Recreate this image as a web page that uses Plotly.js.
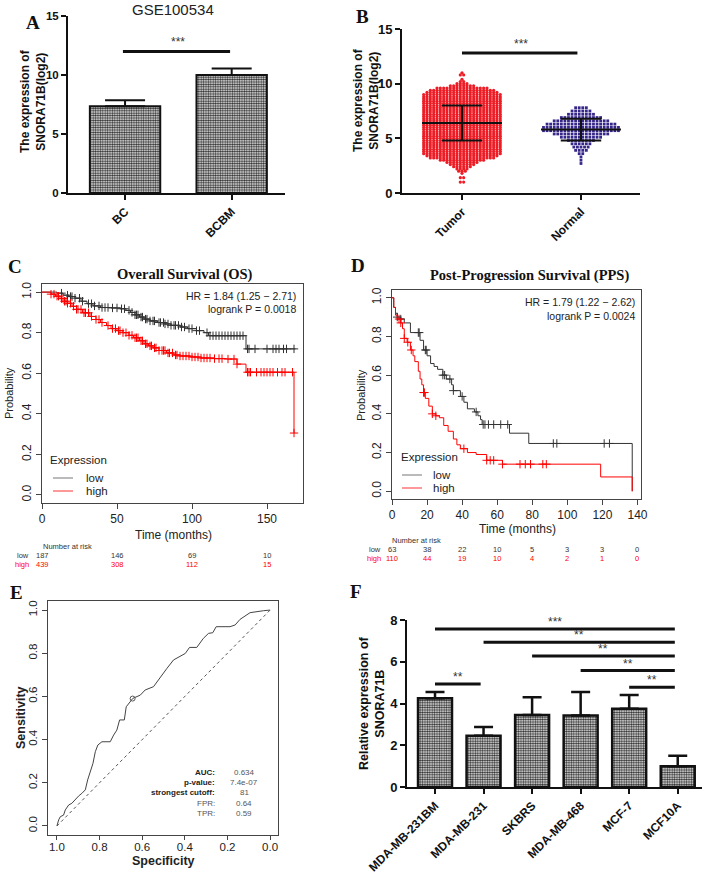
<!DOCTYPE html>
<html>
<head>
<meta charset="utf-8">
<script src="https://cdn.plot.ly/plotly-3.0.1.min.js"></script>
<style>
  html, body { margin: 0; padding: 0; background: #fff; }
  #chart { width: 708px; height: 874px; }
</style>
</head>
<body>
<div id="chart"></div>
<script>
// ---------------------------------------------------------------
// A: GSE100534, BC vs BCBM
const groupsA = ['BC', 'BCBM'];
const meanA = [7.35, 10.0];
const errA = [0.5, 0.55];
const sigLevelA = 12;

// B: tumour vs normal scatter (rows of the dot plot: level -> count)
const groupsB = ['Tumor', 'Normal'];
const tumorLevels = [1.0, 1.4, 1.8, 2.0, 2.2, 2.4, 2.6, 2.8, 3.0, 3.2, 3.4, 3.6, 3.8, 4.0, 4.2, 4.4, 4.6, 4.8,
  5.0, 5.2, 5.4, 5.6, 5.8, 6.0, 6.2, 6.4, 6.6, 6.8, 7.0, 7.2, 7.4, 7.6, 7.8, 8.0, 8.2, 8.4, 8.6, 8.8, 9.0,
  9.2, 9.4, 9.6, 9.8, 10.0, 10.2, 10.4, 10.8, 11.0];
const tumorCounts = [2, 2, 1, 3, 4, 6, 8, 10, 14, 20, 22, 24, 24, 24, 24, 24, 24, 24,
  24, 24, 24, 24, 24, 24, 24, 24, 24, 24, 24, 24, 24, 24, 24, 24, 24, 24, 24, 24, 24,
  22, 20, 16, 8, 4, 2, 1, 2, 1];
const normalLevels = [2.7, 3.0, 3.3, 3.6, 3.9, 4.2, 4.5, 4.8, 5.1, 5.4, 5.7, 6.0, 6.3, 6.6, 6.9, 7.2, 7.5, 7.8];
const normalCounts = [1, 1, 1, 2, 4, 5, 6, 8, 12, 16, 22, 22, 20, 16, 12, 8, 6, 4];
const meanB = [6.4, 5.8];
const sdB = [1.6, 1.0];
const sigLevelB = 12.8;

// C: overall survival
const osLowTime = [0, 10, 14, 18, 22, 26, 30, 34, 39, 46, 52, 56, 59, 62, 65, 68, 72, 77, 82, 86, 92, 97, 103, 108, 111, 136, 169];
const osLowSurv = [1.0, 0.995, 0.985, 0.978, 0.97, 0.955, 0.943, 0.932, 0.924, 0.922, 0.918, 0.91, 0.90, 0.888, 0.877,
  0.867, 0.858, 0.85, 0.843, 0.836, 0.828, 0.82, 0.81, 0.80, 0.785, 0.72, 0.72];
const osLowCensor = [13, 17, 19, 20, 22, 25, 27, 31, 33, 35, 38, 40, 42, 44, 47, 50, 53, 55, 58, 60, 62, 63, 64, 66, 67,
  69, 70, 72, 74, 75, 78, 79, 81, 82, 84, 86, 88, 89, 91, 93, 95, 98, 100, 103, 105, 110, 112, 114, 116, 118, 120,
  122, 124, 126, 128, 130, 132, 134, 137, 138, 142, 150, 154, 156, 158, 161, 163, 168];
const osHighTime = [0, 6, 9, 12, 15, 17, 20, 23, 27, 32, 36, 39, 43, 46, 50, 54, 58, 61, 65, 68, 71, 74, 78, 83, 88,
  92, 99, 106, 115, 123, 130, 136, 168];
const osHighSurv = [1.0, 0.99, 0.98, 0.968, 0.955, 0.945, 0.93, 0.915, 0.898, 0.88, 0.865, 0.85, 0.835, 0.82, 0.81,
  0.80, 0.787, 0.775, 0.76, 0.745, 0.735, 0.725, 0.712, 0.70, 0.69, 0.685, 0.68, 0.675, 0.672, 0.67, 0.645, 0.605, 0.305];
const osHighCensor = [6, 8, 10, 11, 13, 14, 15, 16, 17, 19, 21, 23, 24, 26, 28, 29, 31, 33, 36, 38, 40, 44, 47, 49,
  51, 52, 54, 56, 58, 60, 62, 63, 64, 66, 67, 69, 70, 72, 73, 75, 76, 78, 80, 81, 82, 84, 85, 87, 89, 90, 92, 94, 96,
  98, 100, 102, 104, 106, 108, 110, 112, 115, 118, 120, 124, 128, 130, 137, 138, 139, 143, 146, 148, 150, 152, 154,
  157, 160, 162, 167, 168];
const osRiskTimes = [0, 50, 100, 150];
const osRiskLow = [187, 146, 69, 10];
const osRiskHigh = [439, 308, 112, 15];

// D: post-progression survival
const ppsLowTime = [0, 1, 2, 3, 5, 7, 10.5, 16, 18, 20, 22, 24, 26, 29, 31, 34, 35, 39, 41, 43, 47, 49, 50.5, 51.4, 67, 78, 137];
const ppsLowSurv = [1.0, 0.95, 0.92, 0.90, 0.89, 0.87, 0.82, 0.78, 0.73, 0.70, 0.66, 0.645, 0.63, 0.60, 0.58, 0.55,
  0.52, 0.49, 0.46, 0.426, 0.41, 0.39, 0.37, 0.345, 0.30, 0.247, 0.0];
const ppsLowCensor = [3, 5, 15, 15.5, 19, 19.5, 29, 30, 33, 35, 40, 48, 52, 53, 55, 58, 62, 66, 92, 94, 121, 124];
const ppsHighTime = [0, 1, 2, 3, 5, 6, 7, 8.6, 10.5, 12, 13, 15, 16, 17, 18, 19, 21, 23, 25, 27, 29.5, 32, 35, 37, 39,
  43, 48, 54, 63, 119, 137];
const ppsHighSurv = [1.0, 0.95, 0.91, 0.89, 0.87, 0.84, 0.79, 0.77, 0.73, 0.70, 0.67, 0.62, 0.58, 0.55, 0.51, 0.48,
  0.44, 0.40, 0.39, 0.38, 0.34, 0.31, 0.27, 0.24, 0.22, 0.20, 0.19, 0.16, 0.14, 0.074, 0.0];
const ppsHighCensor = [4, 5, 7, 9, 11, 18, 18.5, 23, 25, 41, 54, 56, 58, 63, 73, 76, 79, 86, 88];
const ppsRiskTimes = [0, 20, 40, 60, 80, 100, 120, 140];
const ppsRiskLow = [63, 38, 22, 10, 5, 3, 3, 0];
const ppsRiskHigh = [110, 44, 19, 10, 4, 2, 1, 0];

// E: ROC curve
const rocSpec = [1.0, 0.992, 0.984, 0.969, 0.961, 0.945, 0.93, 0.914, 0.898, 0.883, 0.867, 0.856, 0.844, 0.831,
  0.82, 0.808, 0.789, 0.75, 0.734, 0.719, 0.706, 0.684, 0.675, 0.664, 0.644, 0.609, 0.586, 0.547, 0.531, 0.508,
  0.484, 0.453, 0.422, 0.398, 0.378, 0.344, 0.313, 0.289, 0.269, 0.253, 0.188, 0.164, 0.141, 0.094, 0.031, 0.0];
const rocSens = [0.0, 0.028, 0.043, 0.05, 0.074, 0.097, 0.105, 0.123, 0.139, 0.151, 0.167, 0.213, 0.252, 0.29,
  0.344, 0.375, 0.39, 0.39, 0.421, 0.444, 0.491, 0.491, 0.552, 0.568, 0.591, 0.606, 0.63, 0.645, 0.668, 0.699,
  0.73, 0.769, 0.784, 0.799, 0.827, 0.827, 0.869, 0.892, 0.895, 0.923, 0.923, 0.931, 0.957, 0.988, 0.997, 1.0];
const cutoffPoint = [0.645, 0.59];
const rocStatLabels = ['AUC:', 'p-value:', 'strongest cutoff:', 'FPR:', 'TPR:'];
const rocStatValues = ['0.634', '7.4e-07', '81', '0.64', '0.59'];

// F: cell lines
const cellLines = ['MDA-MB-231BM', 'MDA-MB-231', 'SKBRS', 'MDA-MB-468', 'MCF-7', 'MCF10A'];
const meanF = [4.25, 2.45, 3.45, 3.42, 3.75, 1.0];
const errF = [0.3, 0.43, 0.85, 1.13, 0.66, 0.5];
const sigFrom = [0, 1, 2, 3, 4, 0];
const sigTo = [5, 5, 5, 5, 5, 1];
const sigLevelsF = [7.57, 6.94, 6.27, 5.58, 4.78, 4.94];
const sigLabelsF = ['***', '**', '**', '**', '**', '**'];

// ---------------------------------------------------------------
const W = 708, H = 874;
const px = x => x / W;
const py = y => 1 - y / H;
const SANS = 'Liberation Sans, Arial, sans-serif';
const SERIF = 'Liberation Serif, Times New Roman, serif';
const INK = '#111';
const RGREY = '#444';

function swarm(center, levels, counts, step) {
  const xs = [], ys = [];
  levels.forEach((v, i) => {
    const n = counts[i];
    for (let k = 0; k < n; k++) {
      xs.push(center + (k - (n - 1) / 2) * step);
      ys.push(v);
    }
  });
  return {xs, ys};
}

function survAt(times, surv, t) {
  let s = surv[0];
  for (let i = 0; i < times.length; i++) if (times[i] <= t) s = surv[i];
  return s;
}

const annotations = [];
function note(text, x, y, o) {
  annotations.push(Object.assign({
    text: text, x: x, y: y, xref: 'paper', yref: 'paper', showarrow: false,
    xanchor: 'center', yanchor: 'middle',
    font: {family: SANS, size: 12, color: INK}
  }, o || {}));
}
const shapes = [];

const data = [];
const patternBar = {shape: '.', size: 2.4, solidity: 0.6, fgcolor: '#2a2a2a'};

// ---- A
data.push({
  type: 'bar', x: [0, 1], y: meanA, width: 0.66, xaxis: 'x', yaxis: 'y',
  marker: {color: '#e6e6e6', pattern: patternBar, line: {color: INK, width: 2}},
  error_y: {type: 'data', symmetric: false, array: errA, arrayminus: errA.map(() => 0),
    thickness: 2, width: 20, color: INK},
  hoverinfo: 'y'
});
shapes.push({type: 'line', xref: 'x', yref: 'y', x0: -0.02, x1: 0.985, y0: sigLevelA, y1: sigLevelA,
  line: {color: INK, width: 3}});
annotations.push({text: '***', x: 0.5, y: sigLevelA, xref: 'x', yref: 'y', showarrow: false,
  yshift: 9, font: {family: SANS, size: 12, color: '#333'}});

// ---- B
const tumorPts = swarm(0, tumorLevels, tumorCounts, 0.028);
const normalPts = swarm(1, normalLevels, normalCounts, 0.03);
data.push({
  type: 'scatter', mode: 'markers', x: tumorPts.xs, y: tumorPts.ys, xaxis: 'x2', yaxis: 'y2',
  marker: {symbol: 'circle', size: 3.2, color: '#ee1c25'}, hoverinfo: 'y'
});
data.push({
  type: 'scatter', mode: 'markers', x: normalPts.xs, y: normalPts.ys, xaxis: 'x2', yaxis: 'y2',
  marker: {symbol: 'square', size: 2.8, color: '#35268a'}, hoverinfo: 'y'
});
[0, 1].forEach(i => {
  const m = meanB[i], s = sdB[i];
  // mean line, SD whisker and caps
  data.push({
    type: 'scatter', mode: 'lines', xaxis: 'x2', yaxis: 'y2', hoverinfo: 'skip',
    x: [i - 0.336, i + 0.336, null, i, i, null, i - 0.17, i + 0.17, null, i - 0.17, i + 0.17],
    y: [m, m, null, m - s, m + s, null, m + s, m + s, null, m - s, m - s],
    line: {color: INK, width: 2}
  });
});
shapes.push({type: 'line', xref: 'x2', yref: 'y2', x0: 0, x1: 0.97, y0: sigLevelB, y1: sigLevelB,
  line: {color: INK, width: 3}});
annotations.push({text: '***', x: 0.5, y: sigLevelB, xref: 'x2', yref: 'y2', showarrow: false,
  yshift: 9, font: {family: SANS, size: 12, color: '#333'}});

// ---- C and D: Kaplan-Meier
function kmTraces(ax, times, surv, censor, color) {
  data.push({type: 'scatter', mode: 'lines', x: times, y: surv, xaxis: 'x' + ax, yaxis: 'y' + ax,
    line: {shape: 'hv', color: color, width: 1}, hoverinfo: 'x+y'});
  data.push({type: 'scatter', mode: 'markers', x: censor, y: censor.map(t => survAt(times, surv, t)),
    xaxis: 'x' + ax, yaxis: 'y' + ax, hoverinfo: 'skip',
    marker: {symbol: 'cross-thin', size: 6, color: color, line: {color: color, width: 1}}});
}
kmTraces(3, osLowTime, osLowSurv, osLowCensor, '#333');
kmTraces(3, osHighTime, osHighSurv, osHighCensor, '#f00');
kmTraces(4, ppsLowTime, ppsLowSurv, ppsLowCensor, '#333');
kmTraces(4, ppsHighTime, ppsHighSurv, ppsHighCensor, '#f00');

// ---- E: ROC
data.push({type: 'scatter', mode: 'lines', x: [1, 0], y: [0, 1], xaxis: 'x5', yaxis: 'y5',
  line: {color: '#555', width: 1, dash: 'dot'}, hoverinfo: 'skip'});
data.push({type: 'scatter', mode: 'lines', x: rocSpec, y: rocSens, xaxis: 'x5', yaxis: 'y5',
  line: {color: '#444', width: 1}, hoverinfo: 'x+y'});
data.push({type: 'scatter', mode: 'markers', x: [cutoffPoint[0]], y: [cutoffPoint[1]], xaxis: 'x5', yaxis: 'y5',
  marker: {symbol: 'circle-open', size: 5, color: '#555', line: {width: 1}}, hoverinfo: 'skip'});

// ---- F
data.push({
  type: 'bar', x: cellLines.map((c, i) => i), y: meanF, width: 0.7, xaxis: 'x6', yaxis: 'y6',
  marker: {color: '#e6e6e6', pattern: patternBar, line: {color: INK, width: 2.5}},
  error_y: {type: 'data', symmetric: false, array: errF, arrayminus: errF.map(() => 0),
    thickness: 2.5, width: 9.5, color: INK},
  hoverinfo: 'y'
});
sigLevelsF.forEach((lv, i) => {
  const x0 = sigFrom[i], x1 = sigTo[i] - 0.06;
  shapes.push({type: 'line', xref: 'x6', yref: 'y6', x0: x0, x1: x1, y0: lv, y1: lv,
    line: {color: INK, width: 3}});
  annotations.push({text: sigLabelsF[i], x: (x0 + x1) / 2, y: lv, xref: 'x6', yref: 'y6', showarrow: false,
    yshift: 7, font: {family: SANS, size: 12, color: '#333'}});
});

// ---------------------------------------------------------------
// Axes
const prism = {showline: true, linewidth: 2, linecolor: INK, ticks: 'outside', ticklen: 5, tickwidth: 2,
  tickcolor: INK, showgrid: false, zeroline: false, fixedrange: true};
const rstyle = {showline: true, mirror: true, linewidth: 1, linecolor: RGREY, ticks: 'outside', ticklen: 5,
  tickwidth: 1, tickcolor: RGREY, showgrid: false, zeroline: false, fixedrange: true,
  tickfont: {family: SANS, size: 12, color: '#222'}};
const boldTick = size => ({family: SANS, size: size, color: INK, weight: 'bold'});

// Panel texts
note('A', px(33), py(22), {font: {family: SERIF, size: 19, color: INK, weight: 'bold'}});
note('B', px(362), py(17), {font: {family: SERIF, size: 19, color: INK, weight: 'bold'}});
note('C', px(15), py(266), {font: {family: SERIF, size: 19, color: INK, weight: 'bold'}});
note('D', px(358), py(265), {font: {family: SERIF, size: 19, color: INK, weight: 'bold'}});
note('E', px(16), py(592), {font: {family: SERIF, size: 19, color: INK, weight: 'bold'}});
note('F', px(356), py(591), {font: {family: SERIF, size: 19, color: INK, weight: 'bold'}});

note('GSE100534', px(173), py(10), {font: {family: SANS, size: 15, color: '#222'}});
note('The expression of<br>SNORA71B(log2)', px(33), py(101), {textangle: -90,
  font: {family: SANS, size: 12, color: INK, weight: 'bold'}});
note('The expression of<br>SNORA71B(log2)', px(366), py(100), {textangle: -90,
  font: {family: SANS, size: 12, color: INK, weight: 'bold'}});

note('Overall Survival (OS)', px(185), py(274), {font: {family: SERIF, size: 14.5, color: INK, weight: 'bold'}});
note('Post-Progression Survival (PPS)', px(529), py(275), {font: {family: SERIF, size: 14.5, color: INK, weight: 'bold'}});
note('HR = 1.84 (1.25 \u2212 2.71)', px(298), py(296), {xanchor: 'right', font: {family: SANS, size: 10.5, color: '#222'}});
note('logrank P = 0.0018', px(298), py(309), {xanchor: 'right', font: {family: SANS, size: 10.5, color: '#222'}});
note('HR = 1.79 (1.22 \u2212 2.62)', px(637), py(302), {xanchor: 'right', font: {family: SANS, size: 10.5, color: '#222'}});
note('logrank P = 0.0024', px(637), py(316), {xanchor: 'right', font: {family: SANS, size: 10.5, color: '#222'}});
note('Probability', px(9), py(393), {textangle: -90, font: {family: SANS, size: 11, color: '#222'}});
note('Probability', px(361), py(395), {textangle: -90, font: {family: SANS, size: 11, color: '#222'}});
note('Time (months)', px(173), py(535), {font: {family: SANS, size: 12, color: '#222'}});
note('Time (months)', px(517), py(529), {font: {family: SANS, size: 12, color: '#222'}});

// KM legends
function kmLegend(left, top, lineX0, lineX1, textX) {
  note('Expression', px(left), py(top), {xanchor: 'left', font: {family: SANS, size: 11.5, color: '#222'}});
  [['low', '#777', top + 18], ['high', '#f33', top + 31]].forEach(r => {
    shapes.push({type: 'line', xref: 'paper', yref: 'paper', x0: px(lineX0), x1: px(lineX1), y0: py(r[2]), y1: py(r[2]),
      line: {color: r[1], width: 1}});
    note(r[0], px(textX), py(r[2]), {xanchor: 'left', font: {family: SANS, size: 11.5, color: '#222'}});
  });
}
kmLegend(48, 460, 53, 73, 84);
kmLegend(399, 457, 402, 422, 431);

// Number at risk tables
function riskTable(ax, times, low, high, titleX, titleY, labelX) {
  note('Number at risk', px(titleX), py(titleY), {font: {family: SANS, size: 7.5, color: '#333'}});
  note('low', px(labelX), py(titleY + 9), {xanchor: 'right', font: {family: SANS, size: 7.5, color: '#333'}});
  note('high', px(labelX), py(titleY + 18), {xanchor: 'right', font: {family: SANS, size: 7.5, color: '#f00'}});
  times.forEach((t, i) => {
    annotations.push({text: String(low[i]), x: t, y: py(titleY + 9), xref: 'x' + ax, yref: 'paper',
      showarrow: false, font: {family: SANS, size: 7.5, color: '#333'}});
    annotations.push({text: String(high[i]), x: t, y: py(titleY + 18), xref: 'x' + ax, yref: 'paper',
      showarrow: false, font: {family: SANS, size: 7.5, color: '#f00'}});
  });
}
riskTable(3, osRiskTimes, osRiskLow, osRiskHigh, 67, 546, 31);
riskTable(4, ppsRiskTimes, ppsRiskLow, ppsRiskHigh, 416, 540, 383);

// ROC texts
note('Sensitivity', px(21), py(718), {textangle: -90, font: {family: SANS, size: 12.5, color: '#222', weight: 'bold'}});
note('Specificity', px(163), py(861), {font: {family: SANS, size: 12.5, color: '#222', weight: 'bold'}});
rocStatLabels.forEach((lab, i) => {
  const y = [772, 782, 792, 803, 813][i];
  note(lab, px(217), py(y), {xanchor: 'right',
    font: {family: SANS, size: 8, color: i < 3 ? '#222' : '#555', weight: i < 3 ? 'bold' : 'normal'}});
  note(rocStatValues[i], px(244), py(y), {font: {family: SANS, size: 8, color: '#555'}});
});

note('Relative expression of<br>SNORA71B', px(372), py(703), {textangle: -90,
  font: {family: SANS, size: 12.5, color: INK, weight: 'bold'}});

const layout = {
  width: W, height: H, margin: {l: 0, r: 0, t: 0, b: 0},
  paper_bgcolor: '#fff', plot_bgcolor: 'rgba(0,0,0,0)', showlegend: false,
  font: {family: SANS},
  xaxis: Object.assign({}, prism, {domain: [px(68), px(285)], range: [-0.535, 1.5], anchor: 'y',
    tickvals: [0, 1], ticktext: groupsA, tickangle: -45, tickfont: boldTick(12)}),
  yaxis: Object.assign({}, prism, {domain: [py(193), py(16)], range: [0, 15], dtick: 5, anchor: 'x',
    tickfont: boldTick(11.5)}),
  xaxis2: Object.assign({}, prism, {domain: [px(402), px(640)], range: [-0.504, 1.496], anchor: 'y2',
    tickvals: [0, 1], ticktext: groupsB, tickangle: -45, tickfont: boldTick(12)}),
  yaxis2: Object.assign({}, prism, {domain: [py(193), py(29)], range: [0, 15], dtick: 5, anchor: 'x2',
    tickfont: boldTick(13)}),
  xaxis3: Object.assign({}, rstyle, {domain: [px(42), px(303)], range: [0, 174], dtick: 50, anchor: 'y3'}),
  yaxis3: Object.assign({}, rstyle, {domain: [py(503), py(284)], range: [-0.04, 1.04], dtick: 0.2,
    tickformat: '.1f', tickangle: -90, anchor: 'x3'}),
  xaxis4: Object.assign({}, rstyle, {domain: [px(392), px(641)], range: [0, 142], dtick: 20, anchor: 'y4'}),
  yaxis4: Object.assign({}, rstyle, {domain: [py(499), py(290)], range: [-0.04, 1.04], dtick: 0.2,
    tickformat: '.1f', tickangle: -90, anchor: 'x4'}),
  xaxis5: Object.assign({}, rstyle, {domain: [px(48), px(278)], range: [1.042, -0.037], dtick: 0.2,
    tickformat: '.1f', anchor: 'y5', ticklen: 4, ticklabelstandoff: -3,
    tickfont: {family: SANS, size: 11.5, color: '#222'}}),
  yaxis5: Object.assign({}, rstyle, {domain: [py(835), py(601)], range: [-0.042, 1.042], dtick: 0.2,
    tickformat: '.1f', tickangle: -90, anchor: 'x5', tickfont: {family: SANS, size: 11.5, color: '#222'}}),
  xaxis6: Object.assign({}, prism, {domain: [px(407), px(702)], range: [-0.577, 5.5], anchor: 'y6',
    tickvals: cellLines.map((c, i) => i), ticktext: cellLines, tickangle: -45, tickfont: boldTick(12)}),
  yaxis6: Object.assign({}, prism, {domain: [py(787), py(620)], range: [0, 8], dtick: 2, anchor: 'x6',
    tickfont: boldTick(13)}),
  annotations: annotations,
  shapes: shapes
};

Plotly.newPlot('chart', data, layout, {displayModeBar: false, staticPlot: true});
</script>
</body>
</html>
